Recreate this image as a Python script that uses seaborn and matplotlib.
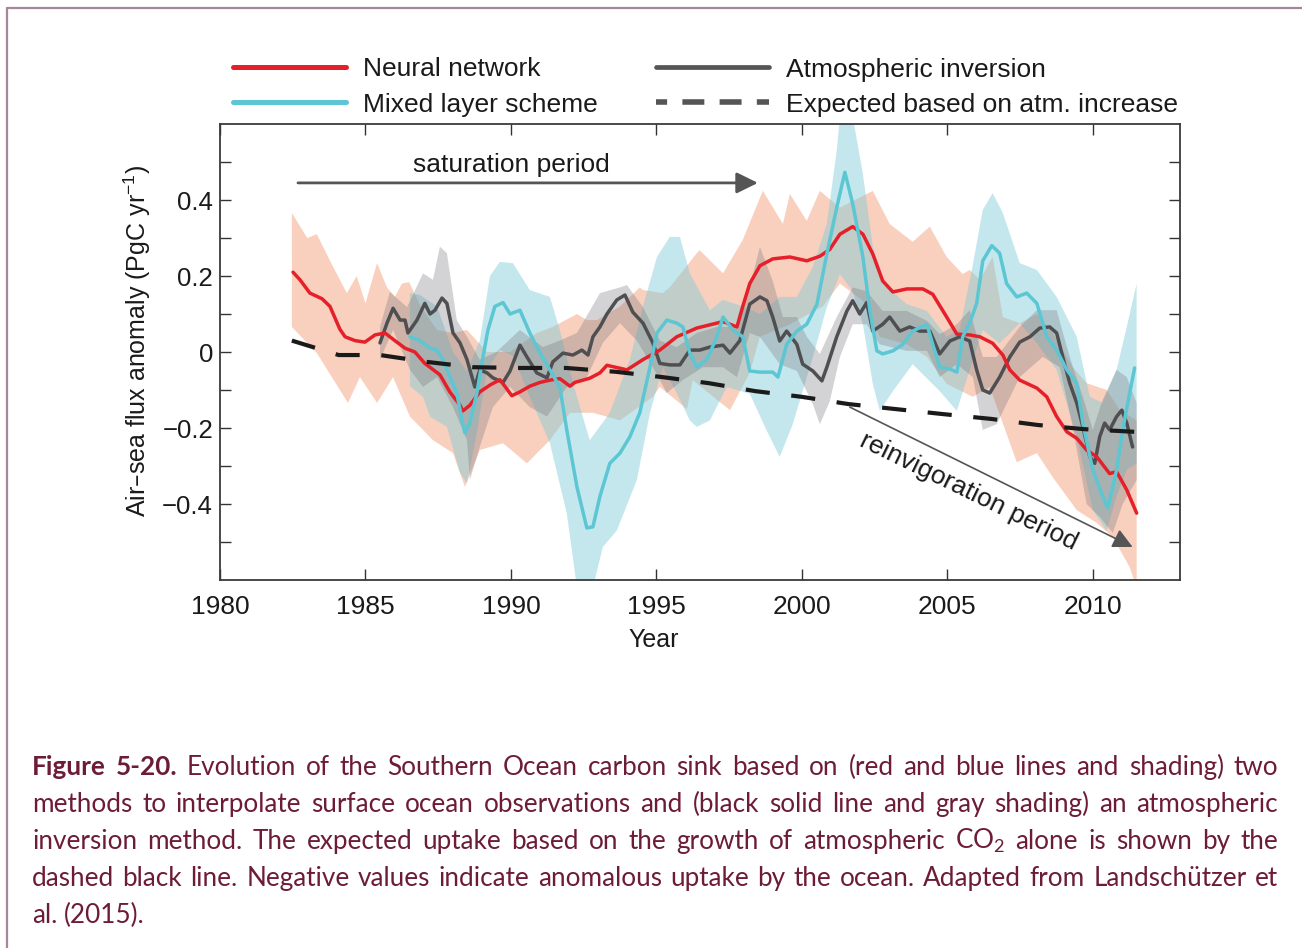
import numpy as np
import pandas as pd
import matplotlib
matplotlib.use("Agg")
import matplotlib.pyplot as plt
from matplotlib.lines import Line2D
from matplotlib.ticker import FixedLocator, FuncFormatter
import seaborn as sns

# ---------------------------------------------------------------------------
# Southern Ocean air-sea CO2 flux anomaly (PgC / yr)
# ---------------------------------------------------------------------------
# Neural network interpolation (central estimate)
nn_year = [1982.51, 1982.75, 1983.09, 1983.51, 1983.78, 1984.12, 1984.30, 1984.64,
           1984.98, 1985.33, 1985.67, 1986.01, 1986.36, 1986.70, 1987.04, 1987.56,
           1987.90, 1988.25, 1988.35, 1988.59, 1988.93, 1989.28, 1989.62, 1989.79,
           1990.03, 1990.31, 1990.65, 1991.00, 1991.34, 1991.68, 1992.03, 1992.20,
           1992.71, 1993.06, 1993.30, 1993.99, 1994.54, 1995.12, 1995.70, 1996.39,
           1997.29, 1997.77, 1997.97, 1998.21, 1998.56, 1999.00, 1999.59, 2000.17,
           2000.62, 2000.96, 2001.31, 2001.75, 2002.10, 2002.44, 2002.78, 2003.13,
           2003.61, 2004.16, 2004.50, 2004.98, 2005.33, 2005.77, 2006.12, 2006.56,
           2006.91, 2007.15, 2007.49, 2008.08, 2008.42, 2008.76, 2009.11, 2009.45,
           2009.79, 2010.14, 2010.58, 2010.82, 2011.17, 2011.51]
nn_flux = [0.21, 0.19, 0.155, 0.14, 0.12, 0.06, 0.04, 0.03,
           0.026, 0.045, 0.05, 0.03, 0.01, 0.0, -0.03, -0.06,
           -0.105, -0.14, -0.155, -0.14, -0.105, -0.087, -0.073, -0.09,
           -0.115, -0.105, -0.09, -0.08, -0.074, -0.07, -0.09, -0.08,
           -0.069, -0.055, -0.035, -0.047, -0.02, 0.005, 0.04, 0.063,
           0.08, 0.066, 0.12, 0.18, 0.227, 0.245, 0.25, 0.24,
           0.252, 0.27, 0.31, 0.33, 0.31, 0.258, 0.187, 0.158,
           0.166, 0.166, 0.152, 0.092, 0.047, 0.045, 0.04, 0.023,
           -0.008, -0.047, -0.074, -0.095, -0.118, -0.17, -0.21, -0.227,
           -0.258, -0.276, -0.32, -0.315, -0.363, -0.424]

# Neural network uncertainty envelope
nn_hi_year = [1982.47, 1983.0, 1983.33, 1983.78, 1984.36, 1984.7, 1985.0, 1985.4,
              1985.74, 1986.01, 1986.25, 1986.5, 1986.9, 1987.46, 1988.0, 1988.49,
              1989.18, 1989.97, 1990.89, 1991.44, 1992.27, 1992.61, 1992.96, 1993.75,
              1994.43, 1994.54, 1995.22, 1995.46, 1996.39, 1996.49, 1997.29, 1997.97,
              1998.66, 1999.35, 1999.59, 2000.17, 2000.62, 2001.31, 2002.44, 2003.02,
              2003.81, 2004.40, 2004.98, 2005.53, 2005.77, 2006.12, 2006.56, 2006.91,
              2007.49, 2008.08, 2008.63, 2009.31, 2009.79, 2010.48, 2010.93, 2011.51]
nn_hi = [0.366, 0.30, 0.31, 0.24, 0.155, 0.20, 0.128, 0.234,
         0.17, 0.145, 0.18, 0.184, 0.12, 0.058, 0.05, 0.058,
         0.0, 0.0, 0.05, 0.066, 0.10, 0.084, 0.084, 0.12,
         0.17, 0.163, 0.155, 0.17, 0.26, 0.268, 0.207, 0.295,
         0.424, 0.337, 0.416, 0.345, 0.424, 0.38, 0.424, 0.337,
         0.29, 0.33, 0.25, 0.205, 0.216, 0.19, 0.25, 0.092,
         0.076, 0.10, 0.05, -0.04, -0.082, -0.10, -0.153, -0.18]
nn_lo_year = [1982.47, 1983.33, 1984.40, 1984.81, 1985.40, 1985.95, 1986.53, 1987.32,
              1988.01, 1988.42, 1988.93, 1989.73, 1990.55, 1991.34, 1992.03, 1992.82,
              1993.75, 1994.88, 1995.12, 1996.05, 1996.25, 1997.53, 1998.21, 1998.56,
              1999.59, 2000.72, 2001.31, 2002.10, 2002.68, 2003.61, 2004.30, 2004.98,
              2005.88, 2006.46, 2007.39, 2008.08, 2008.63, 2009.45, 2010.14, 2010.69,
              2011.27, 2011.51]
nn_lo = [0.066, -0.003, -0.134, -0.066, -0.134, -0.066, -0.17, -0.232,
         -0.266, -0.355, -0.258, -0.24, -0.293, -0.232, -0.16, -0.16,
         -0.18, -0.118, -0.092, -0.15, -0.074, -0.153, -0.055, 0.04,
         0.073, 0.12, 0.18, 0.135, 0.04, 0.02, -0.013, -0.084,
         -0.118, -0.092, -0.29, -0.266, -0.33, -0.416, -0.45, -0.487,
         -0.566, -0.62]

# Mixed layer scheme (central estimate)
mls_year = [1986.53, 1986.87, 1987.22, 1987.46, 1987.66, 1987.90, 1988.14, 1988.32,
            1988.42, 1988.59, 1988.83, 1989.00, 1989.21, 1989.45, 1989.73, 1989.97,
            1990.31, 1990.65, 1991.00, 1991.34, 1991.68, 1991.92, 1992.27, 1992.61,
            1992.82, 1993.06, 1993.40, 1993.75, 1994.09, 1994.43, 1994.78, 1995.02,
            1995.36, 1995.70, 1995.91, 1996.15, 1996.39, 1996.74, 1997.08, 1997.29,
            1997.63, 1997.97, 1998.21, 1998.56, 1999.00, 1999.18, 1999.48, 1999.83,
            2000.17, 2000.52, 2000.86, 2001.20, 2001.48, 2001.75, 2002.10, 2002.34,
            2002.58, 2002.78, 2003.13, 2003.47, 2003.81, 2004.30, 2004.50, 2004.74,
            2005.09, 2005.33, 2005.53, 2005.77, 2006.01, 2006.22, 2006.53, 2006.80,
            2007.04, 2007.39, 2007.73, 2008.08, 2008.42, 2008.76, 2009.11, 2009.45,
            2009.66, 2010.00, 2010.34, 2010.52, 2010.82, 2011.03, 2011.27, 2011.44]
mls_flux = [0.04, 0.03, 0.01, 0.005, -0.02, -0.065, -0.108, -0.18,
            -0.213, -0.187, -0.108, -0.03, 0.058, 0.12, 0.13, 0.10,
            0.11, 0.05, -0.003, -0.047, -0.092, -0.205, -0.355, -0.463,
            -0.46, -0.38, -0.293, -0.266, -0.223, -0.16, -0.04, 0.05,
            0.084, 0.076, 0.066, -0.003, -0.04, -0.02, 0.04, 0.092,
            0.058, 0.04, -0.05, -0.053, -0.053, -0.066, 0.02, 0.055,
            0.073, 0.126, 0.258, 0.38, 0.473, 0.39, 0.25, 0.108,
            0.003, -0.005, 0.003, 0.02, 0.055, 0.073, 0.02, -0.04,
            -0.045, -0.053, 0.04, 0.076, 0.128, 0.24, 0.28, 0.26,
            0.18, 0.145, 0.155, 0.128, 0.04, 0.005, -0.047, -0.082,
            -0.187, -0.31, -0.38, -0.41, -0.31, -0.205, -0.108, -0.042]

# Mixed layer scheme uncertainty envelope
mls_hi_year = [1986.53, 1986.87, 1987.46, 1988.01, 1988.49, 1988.93, 1989.28, 1989.62,
               1990.07, 1990.65, 1991.34, 1991.68, 1992.20, 1992.71, 1993.40, 1994.09,
               1994.54, 1995.02, 1995.46, 1995.81, 1996.15, 1996.84, 1997.29, 1997.97,
               1998.56, 1999.24, 1999.83, 2000.38, 2000.86, 2001.20, 2001.31, 2001.75,
               2002.10, 2002.44, 2002.78, 2003.61, 2004.30, 2004.98, 2005.43, 2005.88,
               2006.22, 2006.56, 2006.91, 2007.49, 2008.08, 2008.76, 2009.45, 2009.90,
               2010.34, 2010.82, 2011.17, 2011.51]
mls_hi = [0.155, 0.15, 0.12, 0.0, -0.05, 0.03, 0.2, 0.237,
          0.234, 0.163, 0.145, 0.058, -0.10, -0.232, -0.16, -0.02,
          0.12, 0.25, 0.303, 0.303, 0.207, 0.11, 0.137, 0.12,
          0.10, 0.145, 0.145, 0.224, 0.337, 0.53, 0.62, 0.62,
          0.468, 0.277, 0.18, 0.126, 0.108, 0.04, 0.06, 0.23,
          0.374, 0.418, 0.366, 0.234, 0.216, 0.145, 0.04, -0.118,
          -0.134, -0.047, 0.066, 0.18]
mls_lo_year = [1986.53, 1986.98, 1987.22, 1987.80, 1988.25, 1988.49, 1988.83, 1989.18,
               1989.62, 1990.07, 1990.65, 1991.34, 1991.92, 1992.27, 1992.82, 1993.16,
               1993.64, 1994.33, 1994.78, 1995.22, 1995.70, 1996.15, 1996.39, 1996.84,
               1997.42, 1998.21, 1998.80, 1999.24, 1999.69, 2000.38, 2000.86, 2001.31,
               2001.75, 2002.10, 2002.44, 2002.68, 2003.13, 2003.81, 2004.74, 2005.33,
               2005.77, 2006.22, 2006.80, 2007.49, 2008.08, 2008.76, 2009.45, 2010.00,
               2010.48, 2010.82, 2011.17, 2011.51]
mls_lo = [-0.09, -0.118, -0.17, -0.197, -0.318, -0.345, -0.213, -0.047,
          0.005, -0.01, -0.118, -0.24, -0.424, -0.62, -0.62, -0.513,
          -0.47, -0.337, -0.16, -0.04, -0.108, -0.18, -0.197, -0.18,
          -0.092, -0.11, -0.208, -0.276, -0.19, -0.013, 0.118, 0.205,
          0.16, 0.073, -0.084, -0.155, -0.103, -0.032, -0.103, -0.155,
          -0.047, 0.058, 0.023, 0.076, 0.023, -0.047, -0.223, -0.416,
          -0.47, -0.38, -0.31, -0.293]

# Atmospheric inversion (central estimate)
inv_year = [1985.50, 1985.74, 1985.95, 1986.19, 1986.36, 1986.46, 1986.77, 1987.04,
            1987.22, 1987.39, 1987.63, 1987.80, 1988.01, 1988.25, 1988.49, 1988.76,
            1988.93, 1989.18, 1989.38, 1989.73, 1989.97, 1990.31, 1990.55, 1990.89,
            1991.24, 1991.44, 1991.79, 1992.13, 1992.44, 1992.65, 1992.82, 1993.06,
            1993.30, 1993.64, 1993.92, 1994.19, 1994.54, 1994.88, 1995.12, 1995.46,
            1995.81, 1996.15, 1996.49, 1996.84, 1997.29, 1997.53, 1997.87, 1998.21,
            1998.56, 1998.80, 1999.00, 1999.24, 1999.48, 1999.83, 2000.03, 2000.38,
            2000.69, 2000.86, 2001.20, 2001.55, 2001.75, 2001.99, 2002.23, 2002.44,
            2002.78, 2003.02, 2003.37, 2003.71, 2004.05, 2004.40, 2004.74, 2005.09,
            2005.43, 2005.77, 2006.01, 2006.22, 2006.46, 2006.80, 2007.15, 2007.49,
            2007.84, 2008.18, 2008.52, 2008.76, 2008.97, 2009.21, 2009.45, 2009.66,
            2009.90, 2010.07, 2010.24, 2010.41, 2010.58, 2010.82, 2011.00, 2011.17,
            2011.37]
inv_flux = [0.024, 0.076, 0.115, 0.084, 0.084, 0.05, 0.084, 0.128,
            0.10, 0.11, 0.142, 0.128, 0.05, 0.024, -0.02, -0.092,
            -0.047, -0.055, -0.068, -0.08, -0.05, 0.018, -0.013, -0.055,
            -0.068, -0.026, -0.003, -0.008, 0.005, -0.008, 0.04, 0.066,
            0.10, 0.137, 0.15, 0.105, 0.076, 0.024, -0.03, -0.034,
            -0.034, 0.005, 0.005, 0.013, 0.018, -0.003, 0.03, 0.126,
            0.145, 0.135, 0.092, 0.029, 0.055, 0.02, -0.032, -0.05,
            -0.076, -0.04, 0.04, 0.108, 0.135, 0.10, 0.13, 0.055,
            0.073, 0.092, 0.055, 0.066, 0.055, 0.055, -0.005, 0.029,
            0.04, 0.029, -0.047, -0.10, -0.108, -0.066, -0.013, 0.026,
            0.04, 0.063, 0.066, 0.05, -0.013, -0.082, -0.134, -0.197,
            -0.276, -0.293, -0.223, -0.187, -0.205, -0.17, -0.153, -0.187,
            -0.25]

# Atmospheric inversion uncertainty envelope
inv_hi_year = [1985.50, 1985.84, 1986.43, 1986.98, 1987.32, 1987.56, 1987.80, 1988.14,
               1988.49, 1988.93, 1989.50, 1990.31, 1991.10, 1991.68, 1992.27, 1993.06,
               1993.75, 1993.99, 1994.54, 1995.12, 1995.70, 1996.39, 1997.08, 1997.77,
               1998.21, 1998.56, 1999.00, 1999.35, 1999.83, 2000.17, 2000.62, 2001.20,
               2001.75, 2002.23, 2002.78, 2003.61, 2004.30, 2004.74, 2005.33, 2005.77,
               2006.22, 2006.70, 2007.49, 2008.08, 2008.76, 2009.21, 2009.66, 2010.00,
               2010.34, 2010.82, 2011.17, 2011.51]
inv_hi = [0.066, 0.158, 0.118, 0.207, 0.19, 0.277, 0.26, 0.084,
          0.04, -0.02, 0.0, 0.058, 0.013, 0.03, 0.05, 0.155,
          0.17, 0.176, 0.118, 0.03, 0.013, 0.05, 0.066, 0.066,
          0.17, 0.277, 0.187, 0.092, 0.092, 0.04, -0.005, 0.092,
          0.17, 0.16, 0.108, 0.108, 0.082, 0.047, 0.073, 0.11,
          -0.013, -0.013, 0.066, 0.11, 0.11, -0.013, -0.118, -0.205,
          -0.126, -0.047, -0.066, -0.134]
inv_lo_year = [1985.50, 1985.95, 1986.53, 1986.98, 1987.46, 1988.01, 1988.49, 1988.59,
               1988.93, 1989.38, 1989.97, 1990.65, 1991.24, 1991.92, 1992.61, 1993.16,
               1993.75, 1994.33, 1994.88, 1995.36, 1995.91, 1996.60, 1997.29, 1997.77,
               1998.21, 1998.56, 1999.24, 1999.83, 2000.38, 2000.62, 2000.96, 2001.31,
               2001.75, 2002.23, 2002.68, 2003.61, 2004.30, 2004.74, 2005.33, 2005.88,
               2006.22, 2006.70, 2007.49, 2008.28, 2008.87, 2009.31, 2009.79, 2010.24,
               2010.69, 2011.03, 2011.51]
inv_lo = [-0.02, 0.058, -0.047, -0.092, -0.066, -0.145, -0.232, -0.337,
          -0.25, -0.145, -0.092, -0.145, -0.17, -0.092, -0.066, 0.024,
          0.076, 0.03, -0.04, -0.108, -0.074, -0.04, -0.04, -0.066,
          0.05, 0.04, -0.032, -0.05, -0.137, -0.19, -0.13, -0.013,
          0.073, 0.073, 0.02, 0.003, 0.003, -0.066, -0.032, -0.066,
          -0.205, -0.19, -0.066, -0.013, -0.04, -0.197, -0.4, -0.434,
          -0.476, -0.4, -0.337]

# Uptake expected from the atmospheric CO2 increase alone
exp_year = [1982.47, 1984.08, 1985.50, 1987.10, 1988.70, 1990.30, 1991.90, 1993.60,
            1995.20, 1996.80, 1998.40, 2000.00, 2001.60, 2003.20, 2004.80, 2006.50,
            2008.10, 2009.70, 2011.44]
exp_flux = [0.03, -0.008, -0.008, -0.026, -0.04, -0.042, -0.042, -0.052,
            -0.066, -0.082, -0.103, -0.118, -0.137, -0.15, -0.163, -0.176,
            -0.192, -0.203, -0.21]

series_labels = ["Neural network", "Mixed layer scheme",
                 "Atmospheric inversion", "Expected based on atm. increase"]
year_ticks = [1980, 1985, 1990, 1995, 2000, 2005, 2010]
flux_major = [-0.4, -0.2, 0.0, 0.2, 0.4]
flux_minor = [-0.5, -0.3, -0.1, 0.1, 0.3, 0.5]

caption_lines = [
    "Figure 5-20. Evolution of the Southern Ocean carbon sink based on (red and blue lines and shading) two",
    "methods to interpolate surface ocean observations and (black solid line and gray shading) an atmospheric",
    "inversion method. The expected uptake based on the growth of atmospheric CO$\\mathregular{_2}$ alone is shown by the",
    "dashed black line. Negative values indicate anomalous uptake by the ocean. Adapted from Landschützer et",
    "al. (2015).",
]

# ---------------------------------------------------------------------------
RED = "#e5202a"
CYAN = "#5cc6d3"
GRAY = "#4f4f51"
CAPTION = "#6d1c38"
FRAME = "#a9879a"

sns.set_theme(style="ticks")
plt.rcParams["font.family"] = ["Liberation Sans", "DejaVu Sans"]
plt.rcParams["axes.unicode_minus"] = True

W, H = 1302, 948
fig = plt.figure(figsize=(W / 100, H / 100), dpi=100)
fig.patch.set_facecolor("white")
ax = fig.add_axes([220 / W, 1 - 580 / H, 960 / W, 456 / H])
ax.set_facecolor("white")


def envelope(xu, yu, xl, yl, color, alpha):
    xs = np.concatenate([np.asarray(xu), np.asarray(xl)[::-1]])
    ys = np.concatenate([np.asarray(yu), np.asarray(yl)[::-1]])
    ax.fill(xs, ys, color=color, alpha=alpha, lw=0, zorder=1)


envelope(nn_hi_year, nn_hi, nn_lo_year, nn_lo, "#f5a98a", 0.55)
envelope(mls_hi_year, mls_hi, mls_lo_year, mls_lo, "#7ccbd8", 0.45)
envelope(inv_hi_year, inv_hi, inv_lo_year, inv_lo, "#7a7a80", 0.33)

df_nn = pd.DataFrame({"year": nn_year, "flux": nn_flux})
df_mls = pd.DataFrame({"year": mls_year, "flux": mls_flux})
df_inv = pd.DataFrame({"year": inv_year, "flux": inv_flux})
df_exp = pd.DataFrame({"year": exp_year, "flux": exp_flux})

sns.lineplot(data=df_inv, x="year", y="flux", color=GRAY, lw=2.5, ax=ax,
             errorbar=None, zorder=3)
sns.lineplot(data=df_nn, x="year", y="flux", color=RED, lw=2.5, ax=ax,
             errorbar=None, zorder=4)
sns.lineplot(data=df_mls, x="year", y="flux", color=CYAN, lw=2.5, ax=ax,
             errorbar=None, zorder=5)
sns.lineplot(data=df_exp, x="year", y="flux", color="#1a1a1a", lw=3.0, ax=ax,
             errorbar=None, zorder=6)
ax.lines[-1].set_dashes((5.8, 5.2))
ax.lines[-1].set_dash_capstyle("butt")

ax.set_xlim(1980, 2013)
ax.set_ylim(-0.6, 0.6)

ax.xaxis.set_major_locator(FixedLocator(year_ticks))
ax.yaxis.set_major_locator(FixedLocator(flux_major))
ax.yaxis.set_minor_locator(FixedLocator(flux_minor))
ax.yaxis.set_major_formatter(
    FuncFormatter(lambda v, _: "0" if abs(v) < 1e-9 else f"{v:.1f}".replace("-", "\u2212")))
ax.tick_params(which="both", direction="in", length=8, width=1.0, color="#333333",
               top=True, right=True, labelsize=18.5, labelcolor="#1a1a1a")
ax.tick_params(axis="x", pad=11, labelsize=19)
ax.tick_params(axis="y", pad=5)
for sp in ax.spines.values():
    sp.set_visible(True)
    sp.set_color("#3a3a3a")
    sp.set_linewidth(1.3)

ax.set_xlabel("Year", fontsize=18, color="#1a1a1a")
ax.xaxis.label.set_va("center")
ax.xaxis.set_label_coords((654 - 220) / 960, -(640 - 580) / 456)
ax.set_ylabel("Air\u2013sea flux anomaly (PgC yr$\\mathregular{^{-1}}$)", fontsize=18,
              color="#1a1a1a")
ax.yaxis.label.set_va("center")
ax.yaxis.set_label_coords(-(220 - 137) / 960, (580 - 341) / 456)

# period annotations
ax.annotate("", xy=(1998.49, 0.445), xytext=(1982.68, 0.445),
            arrowprops=dict(arrowstyle="-|>,head_length=0.65,head_width=0.32",
                            color="#555555", lw=2.0, shrinkA=0, shrinkB=0,
                            mutation_scale=20), zorder=7)
ax.text(1990.03, 0.493, "saturation period", ha="center", va="center",
        fontsize=19, color="#1a1a1a", zorder=7)
ax.annotate("", xy=(2011.37, -0.513), xytext=(2001.65, -0.145),
            arrowprops=dict(arrowstyle="-|>,head_length=0.6,head_width=0.3",
                            color="#555555", lw=1.2, shrinkA=0, shrinkB=0,
                            mutation_scale=20), zorder=7)
ax.text(2005.72, -0.368, "reinvigoration period", ha="center", va="center",
        rotation=-26, rotation_mode="anchor", fontsize=19, color="#1a1a1a", zorder=7)

# legend
handles = [
    Line2D([], [], color=RED, lw=3.6),
    Line2D([], [], color=CYAN, lw=3.6),
    Line2D([], [], color="#555555", lw=3.4),
    Line2D([], [], color="#555555", lw=4.0, linestyle=(1.95, (3.95, 2.75))),
]
fig.legend(handles, series_labels, ncol=2, frameon=False, fontsize=19,
           loc="upper left", bbox_to_anchor=(233 / W, 1 - 57.5 / H),
           handlelength=4.28, handletextpad=0.64, columnspacing=2.23,
           labelspacing=0.42, borderpad=0, borderaxespad=0,
           labelcolor="#1a1a1a")

# page frame
fig.add_artist(Line2D([7 / W, 1.0], [1 - 8 / H, 1 - 8 / H], transform=fig.transFigure,
                      color=FRAME, lw=1.6))
fig.add_artist(Line2D([7 / W, 7 / W], [0.0, 1 - 8 / H], transform=fig.transFigure,
                      color=FRAME, lw=1.6))

# justified caption: size chosen so the widest line nearly fills the column
renderer = fig.canvas.get_renderer()
left_px, right_px = 32, 1278
baselines = [775, 812, 849, 886, 923]


def natural_width(line, size):
    t = fig.text(0, 0, line, fontsize=size, family="Lato")
    w = t.get_window_extent(renderer).width
    t.remove()
    return w


probe = 16.0
widest = max(natural_width(l, probe) for l in caption_lines[:-1])
cap_size = probe * (right_px - left_px) * 0.985 / widest

sp_a = fig.text(0, 0, "a a", fontsize=cap_size, family="Lato")
sp_b = fig.text(0, 0, "aa", fontsize=cap_size, family="Lato")
space_w = sp_a.get_window_extent(renderer).width - sp_b.get_window_extent(renderer).width
sp_a.remove()
sp_b.remove()

for i, line in enumerate(caption_lines):
    words = line.split(" ")
    arts = []
    for j, w in enumerate(words):
        bold = (i == 0 and j < 2)
        t = fig.text(0, 1 - baselines[i] / H, w, fontsize=cap_size, family="Lato",
                     weight="bold" if bold else "normal", color=CAPTION,
                     ha="left", va="baseline")
        arts.append(t)
    widths = [a.get_window_extent(renderer).width for a in arts]
    last = i == len(caption_lines) - 1
    if last or len(words) == 1:
        gap = space_w
    else:
        gap = (right_px - left_px - sum(widths)) / (len(words) - 1)
    x = left_px
    for a, wdt in zip(arts, widths):
        a.set_x(x / W)
        x += wdt + gap

fig.savefig("out.png", dpi=100, facecolor="white")
